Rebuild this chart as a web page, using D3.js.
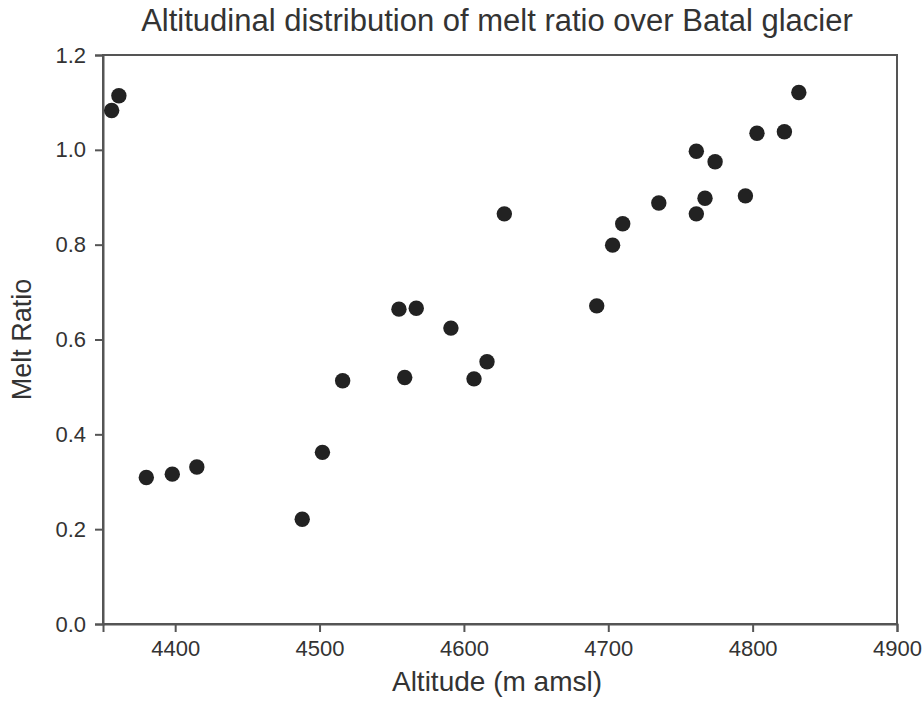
<!DOCTYPE html>
<html>
<head>
<meta charset="utf-8">
<script src="https://cdn.jsdelivr.net/npm/d3@7"></script>
<style>
  body { margin: 0; background: #fff; }
  text { font-family: "Liberation Sans", Arial, sans-serif; fill: #333; }
</style>
</head>
<body>
<div id="chart"></div>
<script>
// altitude (m amsl) of each sample point
var altitude = [4356, 4361, 4380, 4398, 4415, 4488, 4502, 4516, 4555, 4559,
                4567, 4591, 4607, 4616, 4628, 4692, 4703, 4710, 4735, 4761,
                4761, 4767, 4774, 4795, 4803, 4822, 4832];
// melt ratio at that altitude
var meltRatio = [1.083, 1.114, 0.309, 0.316, 0.331, 0.221, 0.362, 0.513, 0.664, 0.520,
                 0.666, 0.624, 0.517, 0.553, 0.865, 0.671, 0.799, 0.844, 0.888, 0.997,
                 0.865, 0.898, 0.975, 0.903, 1.035, 1.038, 1.121];
var xTicks = [4400, 4500, 4600, 4700, 4800, 4900];
var yTicks = [0.0, 0.2, 0.4, 0.6, 0.8, 1.0, 1.2];

var W = 922, H = 710;
var margin = {top: 55, right: 25, bottom: 86, left: 103},
    width = W - margin.left - margin.right,
    height = H - margin.top - margin.bottom;

var svg = d3.select("#chart").append("svg")
    .attr("width", W)
    .attr("height", H);

var g = svg.append("g")
    .attr("transform", "translate(" + margin.left + "," + margin.top + ")");

var x = d3.scaleLinear().domain([4350, 4900]).range([0, width]);
var y = d3.scaleLinear().domain([0, 1.2]).range([height, 0]);

var data = altitude.map(function(a, i) { return {alt: a, ratio: meltRatio[i]}; });

// frame
g.append("rect")
    .attr("width", width)
    .attr("height", height)
    .attr("fill", "none")
    .attr("stroke", "#555")
    .attr("stroke-width", 2);

// axes
var xAxis = g.append("g")
    .attr("transform", "translate(0," + height + ")")
    .call(d3.axisBottom(x).tickValues(xTicks).tickSize(8).tickPadding(8).tickFormat(d3.format("d")));
var yAxis = g.append("g")
    .call(d3.axisLeft(y).tickValues(yTicks).tickSize(8).tickPadding(9).tickFormat(d3.format(".1f")));

[xAxis, yAxis].forEach(function(ax) {
  ax.select(".domain").attr("stroke", "#555").attr("stroke-width", 2);
  ax.selectAll(".tick line").attr("stroke", "#555").attr("stroke-width", 2);
  ax.selectAll(".tick text")
    .attr("fill", "#333")
    .style("font-size", "22px")
    .style("font-family", "Liberation Sans, Arial, sans-serif");
});

// points
g.selectAll(".dot")
  .data(data)
  .enter()
  .append("circle")
    .attr("class", "dot")
    .attr("cx", function(d) { return x(d.alt); })
    .attr("cy", function(d) { return y(d.ratio); })
    .attr("r", 7.7)
    .attr("fill", "#222");

// title
svg.append("text")
    .attr("x", 497)
    .attr("y", 31)
    .attr("text-anchor", "middle")
    .style("font-size", "31px")
    .text("Altitudinal distribution of melt ratio over Batal glacier");

// axis titles
svg.append("text")
    .attr("x", margin.left + width / 2 - 3)
    .attr("y", 691)
    .attr("text-anchor", "middle")
    .style("font-size", "28px")
    .text("Altitude (m amsl)");

svg.append("text")
    .attr("transform", "translate(31," + (margin.top + height / 2) + ") rotate(-90)")
    .attr("text-anchor", "middle")
    .style("font-size", "27px")
    .text("Melt Ratio");
</script>
</body>
</html>
